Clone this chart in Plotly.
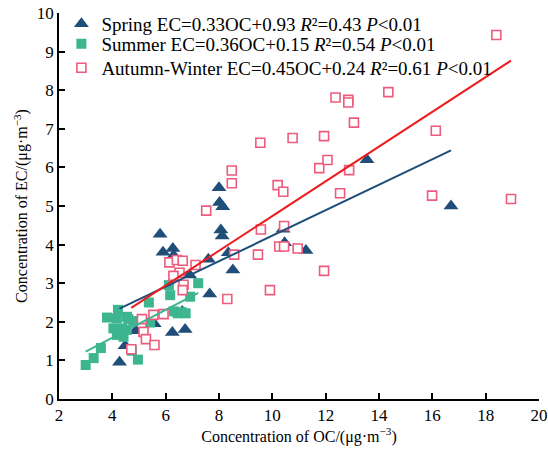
import plotly.graph_objects as go
import numpy as np

# ---- data ----
spring_oc = [4.27, 4.48, 4.88, 5.57, 6.25, 6.73, 6.62, 6.9, 5.79, 5.9, 6.27, 6.3, 7.6, 7.65,
             8.0, 8.02, 8.14, 8.07, 8.12, 8.35, 8.52, 10.4, 10.46, 11.26, 13.55, 16.7]
spring_ec = [0.95, 1.38, 1.77, 1.95, 1.72, 1.8, 2.27, 3.21, 4.27, 3.8, 3.9, 3.72, 3.62, 2.72,
             5.47, 5.09, 4.98, 4.38, 4.22, 3.79, 3.34, 4.4, 4.05, 3.85, 6.2, 5.0]

summer_oc = [3.0, 3.3, 3.57, 3.8, 4.21, 4.04, 4.36, 4.55, 4.6, 4.79, 4.17, 4.29, 4.54, 4.17,
             4.42, 4.73, 4.96, 5.37, 5.42, 6.12, 6.17, 6.3, 6.45, 6.6, 6.75, 6.92, 7.22]
summer_ec = [0.88, 1.06, 1.32, 2.11, 2.31, 1.83, 1.83, 2.13, 2.07, 2.02, 2.09, 1.7, 1.79, 1.66,
             1.61, 1.25, 1.02, 2.5, 1.98, 2.95, 2.69, 2.27, 2.22, 2.25, 2.22, 2.65, 3.0]

aw_oc = [4.71, 5.11, 5.17, 5.26, 5.58, 5.54, 5.92, 6.14, 6.42, 6.64, 7.12, 6.52, 6.29, 6.67,
         6.64, 7.52, 8.31, 8.48, 8.48, 8.57, 9.46, 9.55, 9.57, 9.91, 10.2, 10.41, 10.44, 10.26,
         10.44, 10.76, 10.95, 11.76, 11.94, 11.94, 12.07, 12.37, 12.54, 12.85, 12.85, 12.88,
         13.06, 14.35, 15.99, 16.13, 18.4, 18.95]
aw_ec = [1.29, 2.07, 1.74, 1.55, 1.4, 2.18, 2.2, 3.54, 3.6, 3.58, 3.47, 3.27, 3.19, 2.96,
         2.82, 4.88, 2.59, 5.92, 5.59, 3.74, 3.74, 6.64, 4.39, 2.82, 5.54, 5.37, 4.48, 3.95,
         3.95, 6.76, 3.9, 5.98, 6.81, 3.32, 6.19, 7.81, 5.33, 7.75, 7.68, 5.93,
         7.16, 7.95, 5.27, 6.95, 9.43, 5.18]

# regression (slope, intercept)
fits = {"spring": (0.33, 0.93), "summer": (0.36, 0.15), "aw": (0.45, 0.24)}

x_ticks = [2, 4, 6, 8, 10, 12, 14, 16, 18, 20]
y_ticks = [0, 1, 2, 3, 4, 5, 6, 7, 8, 9, 10]

labels = {
    "spring": "Spring EC=0.33OC+0.93 <i>R</i>²=0.43 <i>P</i>&lt;0.01",
    "summer": "Summer EC=0.36OC+0.15 <i>R</i>²=0.54 <i>P</i>&lt;0.01",
    "aw": "Autumn-Winter EC=0.45OC+0.24 <i>R</i>²=0.61 <i>P</i>&lt;0.01",
}

BLUE = "#1F4E79"
GREEN = "#3DB58F"
PINK = "#EE5B7C"
RED = "#EE1C1C"
FONT = "Liberation Serif"

fig = go.Figure()

fig.add_trace(go.Scatter(x=spring_oc, y=spring_ec, mode="markers", name=labels["spring"],
                         legend="legend",
                         marker=dict(symbol="triangle-up", size=13, color=BLUE,
                                     line=dict(width=0))))
fig.add_trace(go.Scatter(x=summer_oc, y=summer_ec, mode="markers", name=labels["summer"],
                         legend="legend2",
                         marker=dict(symbol="square", size=10, color=GREEN,
                                     line=dict(width=0))))
fig.add_trace(go.Scatter(x=aw_oc, y=aw_ec, mode="markers", name=labels["aw"],
                         legend="legend3",
                         marker=dict(symbol="square", size=9, color="white",
                                     line=dict(width=1.6, color=PINK))))

for key, xs, col in [("spring", spring_oc, BLUE), ("summer", summer_oc, GREEN), ("aw", aw_oc, RED)]:
    k, b = fits[key]
    lx = np.array([min(xs), max(xs)])
    fig.add_trace(go.Scatter(x=lx, y=k * lx + b, mode="lines", showlegend=False,
                             line=dict(color=col, width=2), hoverinfo="skip"))

leg_common = dict(x=0.005, xanchor="left", yanchor="top", bgcolor="rgba(0,0,0,0)",
                  font=dict(family=FONT, size=19), itemwidth=30)

fig.update_layout(
    width=548, height=451,
    margin=dict(l=59, r=9, t=13, b=52, autoexpand=False),
    paper_bgcolor="white", plot_bgcolor="white",
    font=dict(family=FONT, size=17, color="black"),
    showlegend=True,
    legend=dict(y=1.021, **leg_common),
    legend2=dict(y=0.969, **leg_common),
    legend3=dict(y=0.907, **leg_common),
)
fig.update_xaxes(range=[2, 20], tickvals=x_ticks, ticktext=[str(v) for v in x_ticks],
                 showgrid=False, zeroline=False, showline=True, linecolor="black", linewidth=1.5,
                 ticks="inside", ticklen=6, tickwidth=1.5, tickcolor="black",
                 tickfont=dict(family=FONT, size=17), automargin=False,
                 title=dict(text="Concentration of OC/(μg·m<sup>−3</sup>)",
                            font=dict(family=FONT, size=16), standoff=4))
fig.update_yaxes(range=[0, 10], tickvals=y_ticks, ticktext=[str(v) for v in y_ticks],
                 showgrid=False, zeroline=False, showline=True, linecolor="black", linewidth=1.5,
                 ticks="inside", ticklen=6, tickwidth=1.5, tickcolor="black",
                 tickfont=dict(family=FONT, size=17), automargin=False,
                 title=dict(text="Concentration of EC/(μg·m<sup>−3</sup>)",
                            font=dict(family=FONT, size=16), standoff=5))

fig.write_html("out.html", config={"displayModeBar": False},
               post_script="document.body.style.margin='0';document.body.style.overflow='hidden';")
